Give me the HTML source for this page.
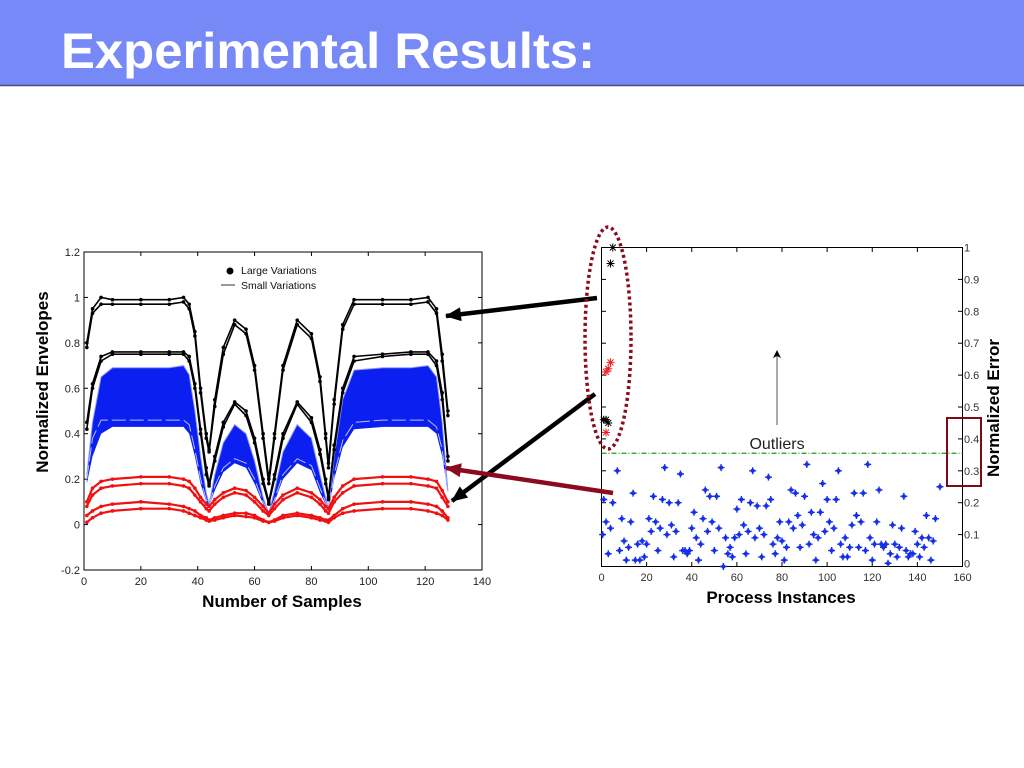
<!DOCTYPE html>
<html><head><meta charset="utf-8"><style>
html,body{margin:0;padding:0;background:#fff;}
svg{display:block;font-family:"Liberation Sans",Arial,sans-serif;}
</style></head><body>
<svg id="root" width="1024" height="768" viewBox="0 0 1024 768">
<rect x="0" y="0" width="1024" height="85" fill="#7789F6"/>
<line x1="0" y1="85.5" x2="1024" y2="85.5" stroke="#4a4f7a" stroke-width="1.5"/>
<text x="61" y="68" font-size="50" font-weight="bold" fill="#fff" textLength="534" lengthAdjust="spacingAndGlyphs">Experimental Results:</text>
<g id="left"></g>
<g id="right"></g>
<g id="ann"></g>
</svg>
<script>
// ---------- Left chart data ----------
const sampleX = [1,3,6,10,20,30,35,37,39,41,43,44,46,49,53,57,60,63,65,67,70,75,80,83,85,86,88,91,95,105,115,121,124,126,128];
const blackA1 = [.80,.95,1.0,.99,.99,.99,1.0,.97,.85,.6,.4,.33,.55,.78,.9,.86,.7,.4,.2,.4,.7,.9,.84,.65,.4,.27,.55,.88,.99,.99,.99,1.0,.95,.75,.5];
const blackA2 = [.78,.93,.97,.97,.97,.97,.98,.95,.83,.58,.38,.32,.52,.75,.88,.84,.68,.38,.18,.38,.68,.88,.82,.63,.38,.25,.53,.86,.97,.97,.97,.98,.93,.72,.48];
const blackB1 = [.45,.62,.74,.76,.76,.76,.76,.74,.62,.42,.25,.18,.3,.45,.54,.5,.38,.2,.1,.22,.4,.54,.47,.33,.2,.12,.35,.6,.74,.75,.76,.76,.72,.58,.3];
const blackB2 = [.42,.6,.72,.75,.75,.75,.75,.72,.6,.4,.22,.17,.28,.43,.53,.48,.36,.18,.09,.2,.38,.53,.45,.31,.18,.11,.33,.58,.72,.74,.75,.75,.7,.55,.28];
const blueTop = [.22,.45,.65,.69,.69,.69,.70,.66,.5,.3,.14,.09,.22,.36,.44,.4,.28,.12,.05,.15,.32,.44,.38,.22,.12,.07,.3,.55,.68,.69,.69,.70,.65,.45,.15];
const blueBottom = [.18,.3,.4,.43,.43,.43,.43,.4,.3,.18,.1,.08,.15,.23,.27,.25,.18,.09,.05,.1,.2,.27,.24,.14,.09,.06,.2,.34,.42,.43,.43,.43,.4,.3,.14];
const blueInner = [.2,.38,.46,.46,.46,.46,.46,.44,.33,.2,.11,.085,.17,.25,.29,.27,.2,.1,.05,.11,.22,.29,.26,.16,.1,.065,.22,.37,.45,.46,.46,.46,.43,.33,.145];
const red1 = [.1,.16,.19,.2,.21,.21,.2,.19,.16,.12,.09,.08,.11,.14,.16,.15,.12,.08,.05,.09,.13,.16,.14,.11,.08,.07,.12,.17,.2,.21,.21,.2,.19,.15,.1];
const red2 = [.08,.13,.16,.17,.18,.18,.17,.16,.13,.1,.07,.06,.09,.12,.14,.13,.1,.06,.04,.07,.11,.14,.12,.09,.06,.05,.1,.14,.17,.18,.18,.17,.16,.12,.08];
const red3 = [.04,.06,.08,.09,.1,.09,.08,.07,.06,.04,.03,.02,.03,.04,.05,.05,.04,.02,.01,.02,.04,.05,.04,.03,.02,.02,.04,.07,.09,.1,.1,.09,.08,.06,.03];
const red4 = [.01,.03,.05,.06,.07,.07,.06,.05,.04,.03,.02,.015,.02,.03,.04,.035,.03,.015,.01,.015,.03,.04,.03,.02,.015,.01,.03,.05,.06,.07,.07,.06,.05,.04,.02];
const leftXTicks = [0,20,40,60,80,100,120,140];
const leftYTicks = [-0.2,0,0.2,0.4,0.6,0.8,1,1.2];
const leftYLabels = ["-0.2","0","0.2","0.4","0.6","0.8","1","1.2"];

// ---------- Right chart data ----------
const instX = [0.5,1,2,3,4,5,7,8,9,10,11,12,13,14,15,16,17,18,19,20,21,22,23,24,25,26,27,28,29,30,31,32,33,34,35,36,37,38,39,40,41,42,43,44,45,46,47,48,49,50,51,52,53,54,55,56,57,58,59,60,61,62,63,64,65,66,67,68,69,70,71,72,73,74,75,76,77,78,79,80,81,82,83,84,85,86,87,88,89,90,91,92,93,94,95,96,97,98,99,100,101,102,103,104,105,106,107,108,109,110,111,112,113,114,115,116,117,118,119,120,121,122,123,124,125,126,127,128,129,130,131,132,133,134,135,136,137,138,139,140,141,142,143,144,145,146,147,148,150];
const instErr = [0.1,0.21,0.14,0.04,0.12,0.2,0.3,0.05,0.15,0.08,0.02,0.06,0.14,0.23,0.02,0.07,0.02,0.08,0.03,0.07,0.15,0.11,0.22,0.14,0.05,0.12,0.21,0.31,0.1,0.2,0.13,0.03,0.11,0.2,0.29,0.05,0.05,0.04,0.05,0.12,0.17,0.09,0.02,0.07,0.15,0.24,0.11,0.22,0.14,0.05,0.22,0.12,0.31,0.0,0.09,0.04,0.06,0.03,0.09,0.18,0.1,0.21,0.13,0.04,0.11,0.2,0.3,0.09,0.19,0.12,0.03,0.1,0.19,0.28,0.21,0.07,0.04,0.09,0.14,0.08,0.02,0.06,0.14,0.24,0.12,0.23,0.16,0.06,0.13,0.22,0.32,0.07,0.17,0.1,0.02,0.09,0.17,0.26,0.11,0.21,0.14,0.05,0.12,0.21,0.3,0.07,0.03,0.09,0.03,0.06,0.13,0.23,0.16,0.06,0.14,0.23,0.05,0.32,0.09,0.02,0.07,0.14,0.24,0.07,0.06,0.07,0.01,0.04,0.13,0.07,0.03,0.06,0.12,0.22,0.05,0.03,0.04,0.04,0.11,0.07,0.03,0.09,0.06,0.16,0.09,0.02,0.08,0.15,0.25];
const outBlackX = [5,4,1,2,3];
const outBlackY = [1.0,0.95,0.46,0.46,0.45];
const outRedX = [4,3,2,2];
const outRedY = [0.64,0.62,0.61,0.42];
const threshold = [0.355];
const rightXTicks = [0,20,40,60,80,100,120,140,160];
const rightYTicks = [0,0.1,0.2,0.3,0.4,0.5,0.6,0.7,0.8,0.9,1];

const NS = "http://www.w3.org/2000/svg";
function mk(parent, tag, attrs, text){
  const e = document.createElementNS(NS, tag);
  for (const k in attrs) e.setAttribute(k, attrs[k]);
  if (text !== undefined) e.textContent = text;
  parent.appendChild(e);
  return e;
}

// ---------- Left chart ----------
const L = document.getElementById('left');
const lx = v => 84 + v * (398 / 140);
const ly = v => 252 + (1.2 - v) * (318 / 1.4);
let plot = mk(L,'rect',{x:84,y:252,width:398,height:318,fill:'#fff',stroke:'#000','stroke-width':1});


leftXTicks.forEach(t=>{
  const tk = mk(L,'line',{x1:lx(t),x2:lx(t),y1:566,y2:570,stroke:'#000'});
  
  
  const tk2 = mk(L,'line',{x1:lx(t),x2:lx(t),y1:252,y2:256,stroke:'#000'});
  
  
  const tl = mk(L,'text',{x:lx(t),y:585,'font-size':11,'text-anchor':'middle',fill:'#222'},String(t));
  
  
});
leftYTicks.forEach((t,i)=>{
  const tk = mk(L,'line',{x1:84,x2:88,y1:ly(t),y2:ly(t),stroke:'#000'});
  
  
  const tk2 = mk(L,'line',{x1:478,x2:482,y1:ly(t),y2:ly(t),stroke:'#000'});
  
  
  const tl = mk(L,'text',{x:80,y:ly(t)+4,'font-size':11,'text-anchor':'end',fill:'#222'},leftYLabels[i]);
  
  
});
let xt = mk(L,'text',{x:282,y:607,'font-size':17,'font-weight':'bold','text-anchor':'middle'},'Number of Samples');


let yt = mk(L,'text',{x:0,y:0,'font-size':17,'font-weight':'bold','text-anchor':'middle',transform:'translate(48,382) rotate(-90)'},'Normalized Envelopes');



const pts = arr => sampleX.map((x,i)=>lx(x).toFixed(1)+','+ly(arr[i]).toFixed(1));
const band = mk(L,'polygon',{points: pts(blueTop).concat(pts(blueBottom).reverse()).join(' '), fill:'#0a1ff0'});


const bl1 = mk(L,'polyline',{points:pts(blueInner).join(' '),fill:'none',stroke:'#b8c0ff','stroke-width':1,'stroke-dasharray':'14 4'});


const bl2 = mk(L,'polyline',{points:pts(blueTop).join(' '),fill:'none',stroke:'#8f9bff','stroke-width':1});



function series(arr, color, width, name){
  const p = mk(L,'polyline',{points:pts(arr).join(' '),fill:'none',stroke:color,'stroke-width':width,'stroke-linejoin':'round'});
  
  
  sampleX.forEach((x,i)=>{
    const m = mk(L,'circle',{cx:lx(x),cy:ly(arr[i]),r:1.8,fill:color});
    
    
  });
}
[red1,red2,red3,red4].forEach(a=>series(a,'#f01010',2.2,'large-variation-red'));
[blackA1,blackA2,blackB1,blackB2].forEach(a=>series(a,'#000',1.6,'large-variation-black'));

let lg1 = mk(L,'circle',{cx:230,cy:271,r:3.5,fill:'#000'});


let lg1t = mk(L,'text',{x:241,y:274,'font-size':10.5,fill:'#111'},'Large Variations');


let lg2 = mk(L,'line',{x1:221,x2:235,y1:285,y2:285,stroke:'#333'});


let lg2t = mk(L,'text',{x:241,y:289,'font-size':10.5,fill:'#111'},'Small Variations');



// ---------- Right chart ----------
const R = document.getElementById('right');
const rx = v => 601.5 + v * (361 / 160);
const ry = v => 566.5 - v * 319;
let rp = mk(R,'rect',{x:601.5,y:247.5,width:361,height:319,fill:'#fff',stroke:'#000','stroke-width':1});


rightXTicks.forEach(t=>{
  const tk = mk(R,'line',{x1:rx(t),x2:rx(t),y1:562,y2:566.5,stroke:'#000'});
  
  
  const tk2 = mk(R,'line',{x1:rx(t),x2:rx(t),y1:247.5,y2:252,stroke:'#000'});
  
  
  const tl = mk(R,'text',{x:rx(t),y:581,'font-size':11,'text-anchor':'middle',fill:'#333'},String(t));
  
  
});
rightYTicks.forEach((t,i)=>{
  const tk = mk(R,'line',{x1:958,x2:962.5,y1:ry(t),y2:ry(t),stroke:'#000'});
  
  
  const tk2 = mk(R,'line',{x1:601.5,x2:606,y1:ry(t),y2:ry(t),stroke:'#000'});
  
  
  const lab = t===0 ? '0' : (t===1 ? '1' : t.toFixed(1));
  const tl = mk(R,'text',{x:964,y:ry(t)+(t===0?1:4),'font-size':11,fill:'#333'},lab);
  
  
});
let rxt = mk(R,'text',{x:781,y:603,'font-size':17,'font-weight':'bold','text-anchor':'middle'},'Process Instances');


let ryt = mk(R,'text',{x:0,y:0,'font-size':17,'font-weight':'bold','text-anchor':'middle',transform:'translate(999,408) rotate(-90)'},'Normalized Error');


let th = mk(R,'line',{x1:rx(0),x2:rx(160),y1:ry(threshold[0]),y2:ry(threshold[0]),stroke:'#1a9a1a','stroke-width':1.3,'stroke-dasharray':'5 2 1 2'});



function star(x,y,color,name,big){
  const s = big?4:3.5;
  const g = mk(R,'path',{d:`M${x-s},${y}H${x+s}M${x},${y-s}V${y+s}`+(big?`M${x-3},${y-3}L${x+3},${y+3}M${x-3},${y+3}L${x+3},${y-3}`:`M${x-1.5},${y-1.5}L${x+1.5},${y+1.5}M${x-1.5},${y+1.5}L${x+1.5},${y-1.5}`),stroke:color,'stroke-width':big?1:1.4,fill:'none'});
  
  
}
instX.forEach((x,i)=>star(rx(x),ry(instErr[i]),'#1530e8','instance-point',false));
outBlackX.forEach((x,i)=>star(rx(x),ry(outBlackY[i]),'#000','outlier-black',true));
outRedX.forEach((x,i)=>star(rx(x),ry(outRedY[i]),'#f02020','outlier-red',true));

// ---------- Annotations ----------
const A = document.getElementById('ann');
let defs = mk(A,'defs',{});
let m1 = mk(defs,'marker',{id:'ah',markerWidth:16,markerHeight:14,refX:15,refY:7,orient:'auto',markerUnits:'userSpaceOnUse'});
mk(m1,'path',{d:'M0,0L16,7L0,14z',fill:'#000'});
let m2 = mk(defs,'marker',{id:'ahr',markerWidth:16,markerHeight:14,refX:15,refY:7,orient:'auto',markerUnits:'userSpaceOnUse'});
mk(m2,'path',{d:'M0,0L16,7L0,14z',fill:'#8b0a1e'});
let m3 = mk(defs,'marker',{id:'ahs',markerWidth:8,markerHeight:8,refX:7,refY:4,orient:'auto',markerUnits:'userSpaceOnUse'});
mk(m3,'path',{d:'M0,0L8,4L0,8L2,4z',fill:'#000'});
let a1 = mk(A,'line',{x1:597,y1:298,x2:446,y2:316,stroke:'#000','stroke-width':4.5,'marker-end':'url(#ah)'});


let a2 = mk(A,'line',{x1:595,y1:394,x2:452,y2:501,stroke:'#000','stroke-width':4.5,'marker-end':'url(#ah)'});


let a3 = mk(A,'line',{x1:613,y1:493,x2:446,y2:468,stroke:'#8b0a1e','stroke-width':4.5,'marker-end':'url(#ahr)'});


let el = mk(A,'ellipse',{cx:608,cy:338,rx:23,ry:111,fill:'none',stroke:'#8b0a1e','stroke-width':3.5,'stroke-dasharray':'3 3'});


let rc = mk(A,'rect',{x:947,y:418,width:34,height:68,fill:'none',stroke:'#7a0a14','stroke-width':2});


let oa = mk(A,'line',{x1:777,y1:425,x2:777,y2:351,stroke:'#555','stroke-width':1,'marker-end':'url(#ahs)'});


let ot = mk(A,'text',{x:777,y:449,'font-size':16,'text-anchor':'middle',fill:'#222'},'Outliers');


</script>
</body></html>
